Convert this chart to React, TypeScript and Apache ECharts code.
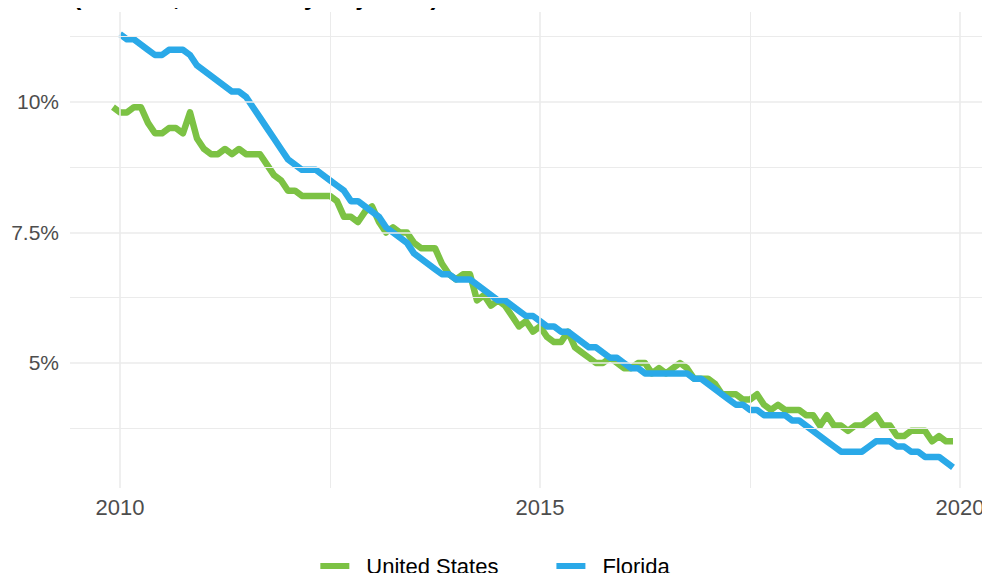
import React, { useEffect, useRef } from "react";
import * as echarts from "echarts";

// Monthly unemployment rate (%), seasonally adjusted
const usStart = { year: 2009, month: 12 };
const usRate = [
  9.9,
  9.8, 9.8, 9.9, 9.9, 9.6, 9.4, 9.4, 9.5, 9.5, 9.4, 9.8, 9.3,
  9.1, 9.0, 9.0, 9.1, 9.0, 9.1, 9.0, 9.0, 9.0, 8.8, 8.6, 8.5,
  8.3, 8.3, 8.2, 8.2, 8.2, 8.2, 8.2, 8.1, 7.8, 7.8, 7.7, 7.9,
  8.0, 7.7, 7.5, 7.6, 7.5, 7.5, 7.3, 7.2, 7.2, 7.2, 6.9, 6.7,
  6.6, 6.7, 6.7, 6.2, 6.3, 6.1, 6.2, 6.1, 5.9, 5.7, 5.8, 5.6,
  5.7, 5.5, 5.4, 5.4, 5.6, 5.3, 5.2, 5.1, 5.0, 5.0, 5.1, 5.0,
  4.9, 4.9, 5.0, 5.0, 4.8, 4.9, 4.8, 4.9, 5.0, 4.9, 4.7, 4.7,
  4.7, 4.6, 4.4, 4.4, 4.4, 4.3, 4.3, 4.4, 4.2, 4.1, 4.2, 4.1,
  4.1, 4.1, 4.0, 4.0, 3.8, 4.0, 3.8, 3.8, 3.7, 3.8, 3.8, 3.9,
  4.0, 3.8, 3.8, 3.6, 3.6, 3.7, 3.7, 3.7, 3.5, 3.6, 3.5, 3.5,
];

const flStart = { year: 2010, month: 1 };
const flRate = [
  11.3, 11.2, 11.2, 11.1, 11.0, 10.9, 10.9, 11.0, 11.0, 11.0, 10.9, 10.7,
  10.6, 10.5, 10.4, 10.3, 10.2, 10.2, 10.1, 9.9, 9.7, 9.5, 9.3, 9.1,
  8.9, 8.8, 8.7, 8.7, 8.7, 8.6, 8.5, 8.4, 8.3, 8.1, 8.1, 8.0,
  7.9, 7.8, 7.6, 7.5, 7.4, 7.3, 7.1, 7.0, 6.9, 6.8, 6.7, 6.7,
  6.6, 6.6, 6.6, 6.5, 6.4, 6.3, 6.2, 6.2, 6.1, 6.0, 5.9, 5.9,
  5.8, 5.7, 5.7, 5.6, 5.6, 5.5, 5.4, 5.3, 5.3, 5.2, 5.1, 5.1,
  5.0, 4.9, 4.9, 4.8, 4.8, 4.8, 4.8, 4.8, 4.8, 4.8, 4.7, 4.7,
  4.6, 4.5, 4.4, 4.3, 4.2, 4.2, 4.1, 4.1, 4.0, 4.0, 4.0, 4.0,
  3.9, 3.9, 3.8, 3.7, 3.6, 3.5, 3.4, 3.3, 3.3, 3.3, 3.3, 3.4,
  3.5, 3.5, 3.5, 3.4, 3.4, 3.3, 3.3, 3.2, 3.2, 3.2, 3.1, 3.0,
];

const seriesNames = ["United States", "Florida"];
const xTickLabels = [2010, 2015, 2020];
const xGridValues = [2010, 2012.5, 2015, 2017.5, 2020];
const yTickLabels = [5, 7.5, 10];
const yGridValues = [3.75, 5, 6.25, 7.5, 8.75, 10, 11.25];
const subtitle = "(Percent, Seasonally Adjusted)";

const toPoints = (start: { year: number; month: number }, values: number[]) =>
  values.map((v, i) => [start.year + (start.month - 1 + i) / 12, v]);

const FONT = "'Liberation Sans', Arial, sans-serif";

export default function App() {
  const ref = useRef<HTMLDivElement>(null);

  useEffect(() => {
    if (!ref.current) return;
    const chart = echarts.init(ref.current, undefined, { renderer: "svg" });
    const majorX = new Set(xTickLabels);
    const majorY = new Set(yTickLabels);
    const gridLine = (w: number) => ({ color: "#ebebeb", width: w, type: "solid" as const });
    chart.setOption({
      animation: false,
      backgroundColor: "#ffffff",
      title: {
        text: subtitle,
        left: 73,
        top: -17,
        padding: 0,
        textStyle: {
          fontSize: 25,
          fontWeight: "bold",
          lineHeight: 25,
          color: "#000000",
          fontFamily: FONT,
        },
      },
      grid: { left: 70, right: 0, top: 12, bottom: 93, containLabel: false },
      xAxis: {
        type: "value",
        min: 2009.405,
        max: 2020.357,
        axisLine: { show: false },
        axisTick: { show: false },
        splitLine: { show: false },
        axisLabel: {
          customValues: xTickLabels,
          formatter: (v: number) => String(v),
          fontSize: 22,
          color: "#4d4d4d",
          fontFamily: FONT,
          margin: 8,
        },
      },
      yAxis: {
        type: "value",
        min: 2.605,
        max: 11.724,
        axisLine: { show: false },
        axisTick: { show: false },
        splitLine: { show: false },
        axisLabel: {
          customValues: yTickLabels,
          formatter: (v: number) => `${v}%`,
          fontSize: 21,
          color: "#4d4d4d",
          fontFamily: FONT,
          margin: 11,
        },
      },
      legend: {
        data: seriesNames,
        top: 555,
        left: "center",
        icon: "rect",
        itemWidth: 29,
        itemHeight: 6,
        itemGap: 58,
        padding: 0,
        textStyle: {
          fontSize: 22,
          color: "#000000",
          fontFamily: FONT,
          padding: [0, 0, 0, 12],
        },
      },
      series: [
        {
          name: "_grid",
          type: "line",
          data: [[2010, 5]],
          showSymbol: false,
          lineStyle: { width: 0, opacity: 0 },
          silent: true,
          z: 1,
          markLine: {
            silent: true,
            symbol: ["none", "none"],
            label: { show: false },
            emphasis: { disabled: true },
            data: [
              ...xGridValues.map((v) => ({ xAxis: v, lineStyle: gridLine(majorX.has(v) ? 1.6 : 1) })),
              ...yGridValues.map((v) => ({ yAxis: v, lineStyle: gridLine(majorY.has(v) ? 1.6 : 1) })),
            ],
          },
        },
        {
          name: seriesNames[0],
          type: "line",
          data: toPoints(usStart, usRate),
          showSymbol: false,
          lineStyle: { color: "#7cc244", width: 6.5, join: "round", cap: "butt" },
          itemStyle: { color: "#7cc244" },
          z: 3,
        },
        {
          name: seriesNames[1],
          type: "line",
          data: toPoints(flStart, flRate),
          showSymbol: false,
          lineStyle: { color: "#2aa9e8", width: 6.5, join: "round", cap: "butt" },
          itemStyle: { color: "#2aa9e8" },
          z: 4,
        },
      ],
    });
    return () => chart.dispose();
  }, []);

  return <div ref={ref} style={{ width: 990, height: 581, margin: -8 }} />;
}
